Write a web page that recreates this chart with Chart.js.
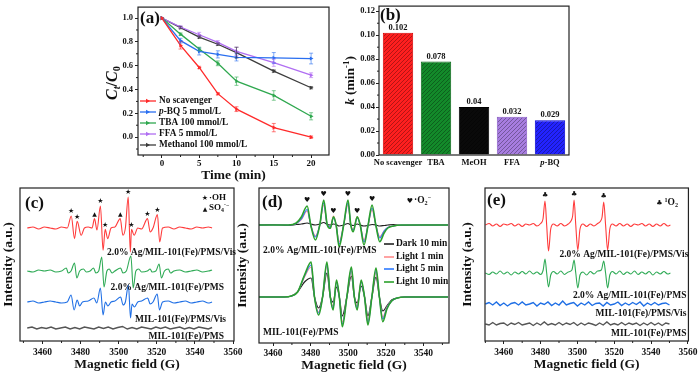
<!DOCTYPE html>
<html>
<head>
<meta charset="utf-8">
<script src="https://cdn.jsdelivr.net/npm/chart.js@4.4.1/dist/chart.umd.min.js"></script>
<style>
  html, body { margin: 0; padding: 0; background: #fff; }
  #wrap { position: relative; width: 700px; height: 374px; overflow: hidden; }
  canvas { position: absolute; }
</style>
</head>
<body>
<div id="wrap">
  <canvas id="ca" width="240" height="190" style="left:95px;top:0px"></canvas>
  <canvas id="cb" width="240" height="190" style="left:340px;top:0px"></canvas>
  <canvas id="cc" width="246" height="194" style="left:0px;top:180px"></canvas>
  <canvas id="cd" width="226" height="194" style="left:234px;top:180px"></canvas>
  <canvas id="ce" width="242" height="194" style="left:458px;top:180px"></canvas>
</div>
<script>
// ---------- (a) Ct/C0 vs time with scavengers ----------
const timesA = [0, 2.5, 5, 7.5, 10, 15, 20];
const namesA = ['No scavenger', 'p-BQ 5 mmol/L', 'TBA 100 mmol/L', 'FFA 5 mmol/L', 'Methanol 100 mmol/L'];
const noScav   = [1.0, 0.77, 0.585, 0.365, 0.235, 0.08, 0.0];
const pBQ      = [1.0, 0.81, 0.72, 0.695, 0.67, 0.665, 0.66];
const tba      = [1.0, 0.865, 0.74, 0.62, 0.47, 0.35, 0.175];
const ffa      = [1.0, 0.925, 0.86, 0.795, 0.72, 0.625, 0.52];
const methanol = [1.0, 0.92, 0.84, 0.78, 0.71, 0.555, 0.415];
const errNoScav = [0, 0.03, 0.01, 0.01, 0.02, 0.035, 0.01];
const errPBQ    = [0, 0.02, 0.03, 0.03, 0.03, 0.045, 0.045];
const errTBA    = [0, 0.01, 0.015, 0.02, 0.035, 0.04, 0.03];
const errFFA    = [0, 0.01, 0.02, 0.015, 0.035, 0.03, 0.02];
const errMeOH   = [0, 0.01, 0.01, 0.01, 0.045, 0.01, 0.01];
const minorAx = [-2.5, 2.5, 7.5, 12.5, 17.5];
const minorAy = [-0.1, 0.1, 0.3, 0.5, 0.7, 0.9];

// ---------- (b) rate constants ----------
const catsB = ['No scavenger', 'TBA', 'MeOH', 'FFA', 'p-BQ'];
const kB = [0.102, 0.078, 0.04, 0.032, 0.029];
const minorBy = [0.01, 0.03, 0.05, 0.07, 0.09, 0.11];

// ---------- (c) DMPO spectra, [field G, intensity a.u.] ----------
const cLabels = ['2.0% Ag/MIL-101(Fe)/PMS/Vis', '2.0% Ag/MIL-101(Fe)/PMS', 'MIL-101(Fe)/PMS/Vis', 'MIL-101(Fe)/PMS'];
const cOffset = [113, 70, 39, 13]; // stacking offsets (a.u.)
const cRed = [[3452,0],[3455,1],[3458,-1],[3461,1],[3464,0],[3467,-1],[3470,1],[3473,0],[3475.1,12],[3476.8,-10.6],
  [3478.2,6.7],[3480.3,-7.3],[3482,0],[3484,1],[3486,0],[3487.3,9.4],[3488.6,-2],[3490.4,22],[3491.8,-22.3],[3492.9,-1.3],
  [3494.2,-10.6],[3496,0],[3498,1],[3500.8,9.4],[3502.2,-7.3],[3503.5,0],[3505,31],[3506.1,-24],[3506.7,-1.3],[3508.1,-7.3],
  [3510,0],[3512,-1],[3515.1,9.4],[3516.5,-4],[3518,0],[3520.3,13.4],[3521.5,-14],[3523,0],[3526,1],[3529,-1],
  [3532,1],[3535,0],[3538,-1],[3541,1],[3544,0],[3547,1],[3549,0]];
const cGreen = [[3452,0],[3455,-1],[3458,1],[3461,0],[3464,1],[3467,-1],[3470,0],[3472.5,3],[3473.5,-2],[3475,0],
  [3476.8,8],[3478,-7],[3479.5,0],[3481.5,2],[3483,-1],[3485,0],[3486.8,3],[3488,-2],[3489.5,0],[3491.1,14],
  [3492.3,-16],[3493.8,0],[3495,2],[3496.5,-2],[3498,0],[3501,3],[3502.2,-2],[3504,0],[3506.4,15],[3507.6,-17],
  [3509,0],[3510.5,2],[3512,-1],[3515,0],[3516.5,2],[3517.5,-1],[3519.5,0],[3521.2,7],[3522.4,-7],[3524,0],
  [3526,2],[3527.2,-2],[3529,0],[3532,1],[3535,-1],[3538,0],[3541,1],[3544,-1],[3547,0],[3549,1]];
const cBlue = [[3452,0],[3455,1],[3458,-1],[3461,0],[3464,1],[3467,0],[3470,-1],[3473,0],[3475,7],[3476.6,-8],
  [3478.2,2],[3479.5,-4],[3481,0],[3484,1],[3487,4],[3488.5,-1],[3490.4,14],[3491.8,-13],[3493,0],[3494.3,-4],
  [3496,0],[3498,1],[3501,5],[3502.3,-3],[3503.5,0],[3505.1,17],[3506.2,-16],[3507,-2],[3508.2,-5],[3510,0],
  [3512,1],[3515.2,4],[3516.5,-2],[3518,0],[3520.2,8],[3521.4,-8],[3523,0],[3526,1],[3529,-1],[3532,0],
  [3535,1],[3538,-1],[3541,0],[3544,1],[3547,-1],[3549,0]];
const cGray = [[3452,0],[3454.5,1],[3457,-1],[3459.5,0.5],[3462,-0.5],[3464.5,1],[3467,-1],[3469.5,0],[3472,1],[3474.5,-1],
  [3477,0.5],[3479.5,-1],[3482,1],[3484.5,0],[3487,-1],[3489.5,1],[3492,-0.5],[3494.5,1],[3497,-1],[3499.5,0.5],
  [3502,1.5],[3504.5,-1],[3507,0.5],[3509.5,-1],[3512,1],[3514.5,0],[3517,-1],[3519.5,1],[3522,-0.5],[3524.5,1],
  [3527,-1],[3529.5,0],[3532,1],[3534.5,-1],[3537,0.5],[3539.5,-1],[3542,1],[3544.5,0],[3547,-1],[3549,0.5]];
const cStarFields = [3475.1, 3478.2, 3490.4, 3492.9, 3505, 3506.7, 3515.1, 3520.3];
const cTriFields = [3487.3, 3500.8];
const minorCx = [3450, 3470, 3490, 3510, 3530, 3550];

// ---------- (d) DMPO-O2 spectra ----------
const dLegend = ['Dark 10 min', 'Light 1 min', 'Light 5 min', 'Light 10 min'];
const dOffset = [118, 46];
const dFieldTop = [3452, 3460, 3468, 3472.3, 3475, 3478.1, 3480, 3482.5, 3484.8, 3486.9, 3488.8, 3490.4, 3492.1, 3493.5, 3495.1, 3497.5,
  3499.8, 3501.3, 3502.6, 3504.7, 3506.3, 3508.3, 3510.5, 3512.6, 3514.6, 3516.7, 3519, 3521, 3524, 3528, 3540, 3553];
const dTopDark = [0, 0.5, -0.5, 0.5, 1, 2, 1, 0, 1, 2.5, 0.5, 0, 1, 0.5, -1, 0, 1.5, 0, -0.5, 1, 0, -1, -0.5, 0.5, 0, -1, -0.5, 0, 0.5, -0.5, 0, 0];
const dTopL1   = [0, 0, 0, 1.5, 5.5, 14, 0, -11, 0, 20, 0, -1.5, 9, 0, -17, 0, 20, 0, -4.5, 8.5, 0, -15, 0, 15, 0, -11.7, -6, -2.5, -1, 0, 0, 0];
const dTopL5   = [0, 0, 0, 1.5, 6, 15.5, 0, -12, 0, 22, 0, -2, 7, 0, -19, 0, 22, 0, -5, 7, 0, -17, 0, 17, 0, -13, -6, -2.5, -1, 0, 0, 0];
const dTopL10  = [0, 0, 0, 2, 8, 19, 0, -15, 0, 25, 0, -3.3, 8.3, 0, -21.7, 0, 25, 0, -6.7, 8.3, 0, -20, 0, 20, 0, -16.7, -8, -3, -1, 0, 0, 0];
const dFieldLow = [3452, 3460, 3466, 3469.7, 3473, 3476.7, 3480.2, 3482, 3484.2, 3486.3, 3488.6, 3490.4, 3491.9, 3493.7, 3495.2, 3496.8,
  3499.2, 3501.6, 3503.2, 3504.7, 3506.8, 3508.6, 3510.4, 3512.5, 3514.7, 3516.5, 3518.3, 3520.5, 3523, 3526, 3530, 3540, 3553];
const dLowDark = [0, 0, 0, 1, 5, 15, 19, 0, -11, 0, 24, 0, -5, 10, 0, -19, 0, 21, 0, -6, 11, 0, -19, 0, 20, 0, -14, -9, -3, -1, 0, 0, 0];
const dLowL1   = [0, 0, 0, 1, 5, 20, 30, 0, -15, 0, 31, 0, -9, 16, 0, -25, 0, 26, 0, -9, 16, 0, -24, 0, 25, 0, -20, -10, -4, -1, 0, 0, 0];
const dLowL5   = [0, 0, 0, 1, 5, 21, 32, 0, -16, 0, 33, 0, -11, 15, 0, -27, 0, 28, 0, -11, 15, 0, -26, 0, 27, 0, -22, -11, -4, -1, 0, 0, 0];
const dLowL10  = [0, 0, 0, 1, 5, 22, 35, 0, -18, 0, 35, 0, -13, 17, 0, -29.7, 0, 30, 0, -13, 17, 0, -28, 0, 29, 0, -24.7, -12, -4, -1, 0, 0, 0];
const dHeartFields = [3478.1, 3486.9, 3492.1, 3499.8, 3504.7, 3512.6];
const minorDx = [3470, 3490, 3510, 3530, 3550];

// ---------- (e) TEMP-1O2 spectra ----------
const eLabels = cLabels;
const eOffset = [116, 68, 37, 17];
const eRed = [[3450,0],[3452,1.5],[3454,-1],[3456,1],[3458,-1.5],[3460,1],[3462,0],[3464,1.5],[3466,-1],[3468,1],
  [3470,-1.5],[3472,1],[3474,0],[3476,1.5],[3478,-1],[3480,1.5],[3481.3,6],[3482.4,24],[3483.3,0],[3484.3,-26],
  [3485.5,-4],[3487,1],[3489,-1],[3491,1.5],[3493,-1],[3495,1],[3496.5,4],[3497.4,9],[3498.2,25],[3499.1,0],
  [3500.2,-25],[3501.4,-4],[3503,1],[3505,-1.5],[3507,1],[3509,-1],[3511,1.5],[3512.6,4],[3513.4,8],[3514.3,23],
  [3515.3,0],[3516.4,-25],[3517.6,-4],[3519,1],[3521,-1],[3523,1.5],[3525,-1],[3527,1],[3529,-1.5],[3531,1],
  [3533,0],[3535,1.5],[3537,-1],[3539,1],[3541,-1.5],[3543,1],[3545,-1],[3547,1.5],[3549,-1],[3550.5,0]];
const eGreen = [[3450,0],[3452,-1.5],[3454,1],[3456,-1],[3458,2],[3460,-1],[3462,1],[3464,-2],[3466,1],[3468,-1],
  [3470,1.5],[3472,-1],[3474,2],[3476,-1],[3478,1],[3480,-1.5],[3481.4,3],[3482.4,14],[3483.3,0],[3484.3,-14],
  [3485.5,-2],[3487,1.5],[3489,-1],[3491,2],[3493,-1.5],[3495,1],[3497,3],[3498.2,13],[3499.1,0],[3500.2,-15],
  [3501.4,-2],[3503,1],[3505,-2],[3507,1.5],[3509,-1],[3511,2],[3513,3],[3514.3,12],[3515.3,0],[3516.4,-15],
  [3517.6,-2],[3519,1.5],[3521,-1],[3523,2],[3525,-1.5],[3527,1],[3529,-1],[3531,2],[3533,-1.5],[3535,1],
  [3537,-1],[3539,1.5],[3541,-2],[3543,1],[3545,-1],[3547,1.5],[3549,-1],[3550.5,0]];
const eGrid = [3450,3452,3454,3456,3458,3460,3462,3464,3466,3468,3470,3472,3474,3476,3478,3480,3482,3484,3486,3488,
  3490,3492,3494,3496,3498,3500,3502,3504,3506,3508,3510,3512,3514,3516,3518,3520,3522,3524,3526,3528,
  3530,3532,3534,3536,3538,3540,3542,3544,3546,3548,3550];
const eBlue = [0,1.5,-1,2,-1.5,1,-2,0.5,1.5,-1, 2,-1,0,1.5,-2,1,-0.5,2,-1.5,1, -1,3,-1,0.5,1.5,-2,1,-1,2,-1.5,
  0.5,1,-2,1.5,-1,0,2,-1.5,1,-1, 1.5,-0.5,2,-2,1,-1,1.5,-1,0.5,1, -1];
const eGray = [0,-1,1.5,-1,0.5,1,-1.5,1,-0.5,1.5, -1,0,1,-1.5,1,-1,2,-1,0.5,-1, 1.5,-1,1,-0.5,1.5,-1.5,1,-1,1,0,
  -1.5,1,-1,2,-1,0.5,-1,1.5,-1,1, -0.5,1,-1.5,1,-1,1.5,-1,1,-1.5,1, 0];
const eClubFields = [3482.4, 3498.2, 3514.3];
const minorEx = [3450, 3470, 3490, 3510, 3530, 3550];

// ---------- helpers ----------
const FONT = '"Liberation Serif", "Times New Roman", serif';
const INK = '#111';
function f(size, style) { return { family: FONT, size: size, weight: 'bold', style: style || 'normal' }; }

function richFont(p, size) {
  const s = (p.sub || p.sup) ? size * 0.65 : size;
  return (p.it ? 'italic ' : '') + 'bold ' + s + 'px ' + FONT;
}
// draws text made of parts {t, it, sub, sup}
function drawRich(ctx, parts, x, y, size, align, rotate) {
  ctx.save();
  ctx.translate(x, y);
  if (rotate) ctx.rotate(-Math.PI / 2);
  let w = 0;
  const widths = parts.map(p => { ctx.font = richFont(p, size); const m = ctx.measureText(p.t).width; w += m; return m; });
  let cx = align === 'center' ? -w / 2 : align === 'right' ? -w : 0;
  ctx.textAlign = 'left';
  ctx.textBaseline = 'middle';
  ctx.fillStyle = INK;
  parts.forEach((p, i) => {
    ctx.font = richFont(p, size);
    const dy = p.sub ? size * 0.28 : p.sup ? -size * 0.3 : 0;
    ctx.fillText(p.t, cx, dy);
    cx += widths[i];
  });
  ctx.restore();
}
function txt(ctx, s, x, y, size, align) {
  ctx.font = 'bold ' + size + 'px ' + FONT;
  ctx.textAlign = align || 'left';
  ctx.textBaseline = 'middle';
  ctx.fillStyle = INK;
  ctx.fillText(s, x, y);
}
function glyph(ctx, s, x, y, size) {
  ctx.font = size + 'px "DejaVu Sans", sans-serif';
  ctx.textAlign = 'center';
  ctx.textBaseline = 'bottom';
  ctx.fillStyle = INK;
  ctx.fillText(s, x, y);
}
function nameParts(s) {
  return s.startsWith('p-') ? [{ t: 'p', it: 1 }, { t: s.slice(1) }] : [{ t: s }];
}
function zip(fields, vals) { return fields.map((g, i) => [g, vals[i]]); }
function valAt(points, g) { const p = points.find(q => q[0] === g); return p ? p[1] : 0; }

function spec(points, offset, color, width, smooth) {
  return {
    data: points.map(p => ({ x: p[0], y: offset + p[1] })),
    borderColor: color, borderWidth: width || 1, pointRadius: 0, fill: false,
    cubicInterpolationMode: smooth === false ? 'default' : 'monotone', tension: 0
  };
}

// frame round the plot area
const framePlugin = {
  id: 'frame',
  afterDraw(chart) {
    const { ctx, chartArea: a } = chart;
    ctx.save();
    ctx.strokeStyle = '#222';
    ctx.lineWidth = 1.2;
    ctx.strokeRect(a.left, a.top, a.right - a.left, a.bottom - a.top);
    ctx.restore();
  }
};
// short outward minor ticks
const minorPlugin = {
  id: 'minor',
  afterDraw(chart, args, o) {
    const { ctx, chartArea: a, scales } = chart;
    ctx.save();
    ctx.strokeStyle = '#222';
    ctx.lineWidth = 1;
    (o.x || []).forEach(v => {
      const px = scales.x.getPixelForValue(v);
      ctx.beginPath(); ctx.moveTo(px, a.bottom); ctx.lineTo(px, a.bottom + 2); ctx.stroke();
    });
    (o.y || []).forEach(v => {
      const py = scales.y.getPixelForValue(v);
      ctx.beginPath(); ctx.moveTo(a.left, py); ctx.lineTo(a.left - 2, py); ctx.stroke();
    });
    ctx.restore();
  }
};
Chart.register(framePlugin, minorPlugin);

function base(pad) {
  return {
    responsive: false, animation: false, events: [],
    layout: { padding: pad, autoPadding: false },
    plugins: { legend: { display: false }, tooltip: { enabled: false } }
  };
}
function fieldAxis(min, max, xH, labelPad, titlePad) {
  return {
    type: 'linear', min: min, max: max,
    afterFit: s => { s.height = xH; },
    border: { display: false },
    grid: { drawOnChartArea: false, tickLength: 3, color: '#222' },
    ticks: { stepSize: 20, includeBounds: false, font: f(9.5), color: INK, padding: labelPad, maxRotation: 0, autoSkip: false,
      callback: v => String(v) },
    title: { display: true, text: 'Magnetic field (G)', font: f(13.5), color: INK, padding: { top: 0, bottom: titlePad } }
  };
}
function intensityAxis(max, yW, titlePad) {
  return {
    type: 'linear', min: 0, max: max,
    afterFit: s => { s.width = yW; },
    border: { display: false }, grid: { display: false }, ticks: { display: false },
    title: { display: true, text: 'Intensity (a.u.)', font: f(13.5), color: INK, padding: { top: titlePad, bottom: 0 } }
  };
}

// ---------- chart (a) ----------
const seriesA = [noScav, pBQ, tba, ffa, methanol];
const errA = [errNoScav, errPBQ, errTBA, errFFA, errMeOH];
const colorsA = ['#ff2a2a', '#2a6ff0', '#2fa84f', '#b06ef2', '#3c3c3c'];

const optA = base({ left: 0, right: 6, top: 3, bottom: 0 });
optA.plugins.minor = { x: minorAx, y: minorAy };
optA.scales = {
  x: {
    type: 'linear', min: -3.2, max: 22.4,
    afterFit: s => { s.height = 35; },
    border: { display: false },
    grid: { drawOnChartArea: false, tickLength: 3, color: '#222' },
    ticks: { stepSize: 5, includeBounds: false, font: f(9), color: INK, padding: 0, maxRotation: 0, callback: v => String(v) },
    title: { display: true, text: 'Time (min)', font: f(13.5), color: INK, padding: { top: 0, bottom: 6.5 } }
  },
  y: {
    type: 'linear', min: -0.15, max: 1.092,
    afterFit: s => { s.width = 43; },
    border: { display: false },
    grid: { drawOnChartArea: false, tickLength: 3, color: '#222' },
    ticks: { stepSize: 0.2, includeBounds: false, font: f(8.5), color: INK, padding: 2, callback: v => v.toFixed(1) }
  }
};
new Chart(document.getElementById('ca'), {
  type: 'line',
  data: {
    datasets: seriesA.map((s, k) => ({
      data: timesA.map((t, i) => ({ x: t, y: s[i] })),
      borderColor: colorsA[k], backgroundColor: colorsA[k], borderWidth: 1.3,
      pointStyle: 'triangle', rotation: 90, pointRadius: 2.4, pointBorderWidth: 0, tension: 0
    }))
  },
  options: optA,
  plugins: [{
    id: 'aNotes',
    afterDatasetsDraw(chart) {
      const { ctx, scales: { x, y } } = chart;
      ctx.save();
      ctx.globalAlpha = 0.6;
      ctx.lineWidth = 1;
      seriesA.forEach((s, k) => {
        ctx.strokeStyle = colorsA[k];
        timesA.forEach((t, i) => {
          const e = errA[k][i];
          if (!e) return;
          const px = x.getPixelForValue(t);
          const y1 = y.getPixelForValue(s[i] + e), y2 = y.getPixelForValue(s[i] - e);
          ctx.beginPath();
          ctx.moveTo(px, y1); ctx.lineTo(px, y2);
          ctx.moveTo(px - 2, y1); ctx.lineTo(px + 2, y1);
          ctx.moveTo(px - 2, y2); ctx.lineTo(px + 2, y2);
          ctx.stroke();
        });
      });
      ctx.restore();
    },
    afterDraw(chart) {
      const { ctx, chartArea: a } = chart;
      txt(ctx, '(a)', a.left + 2, a.top + 12, 17);
      drawRich(ctx, [{ t: 'C', it: 1 }, { t: 't', it: 1, sub: 1 }, { t: '/' }, { t: 'C', it: 1 }, { t: '0', sub: 1 }],
        a.left - 25, (a.top + a.bottom) / 2 + 2, 16, 'center', true);
      namesA.forEach((n, k) => {
        const yy = a.bottom - 54 + k * 11;
        ctx.save();
        ctx.strokeStyle = colorsA[k]; ctx.lineWidth = 1.3;
        ctx.beginPath(); ctx.moveTo(a.left + 2, yy); ctx.lineTo(a.left + 18, yy); ctx.stroke();
        ctx.fillStyle = colorsA[k];
        ctx.beginPath(); ctx.moveTo(a.left + 12, yy); ctx.lineTo(a.left + 8, yy - 2.2); ctx.lineTo(a.left + 8, yy + 2.2); ctx.fill();
        ctx.restore();
        drawRich(ctx, nameParts(n), a.left + 21, yy, 9.3, 'left', false);
      });
    }
  }]
});

// ---------- chart (b) ----------
const barColorsB = ['#ff1f1f', '#138a2a', '#0a0a0a', '#a77de0', '#2323ff'];
const barEdgeB = ['#d80000', '#0a6a1a', '#000000', '#8a5cc8', '#0000d0'];
function hatch(color) {
  const c = document.createElement('canvas');
  c.width = 4; c.height = 4;
  const g = c.getContext('2d');
  g.fillStyle = color; g.fillRect(0, 0, 4, 4);
  g.strokeStyle = 'rgba(0,0,0,0.3)'; g.lineWidth = 1;
  g.beginPath();
  g.moveTo(0, 4); g.lineTo(4, 0);
  g.moveTo(-1, 1); g.lineTo(1, -1);
  g.moveTo(3, 5); g.lineTo(5, 3);
  g.stroke();
  return g.createPattern(c, 'repeat');
}
const optB = base({ left: 0, right: 11, top: 3, bottom: 0 });
optB.plugins.minor = { y: minorBy };
optB.scales = {
  x: {
    type: 'category', offset: true,
    afterFit: s => { s.height = 35; },
    border: { display: false }, grid: { display: false }, ticks: { display: false }
  },
  y: {
    type: 'linear', min: 0, max: 0.1243,
    afterFit: s => { s.width = 39; },
    border: { display: false },
    grid: { drawOnChartArea: false, tickLength: 3, color: '#222' },
    ticks: { stepSize: 0.02, includeBounds: false, font: f(8.5), color: INK, padding: 1, callback: v => v.toFixed(2) }
  }
};
new Chart(document.getElementById('cb'), {
  type: 'bar',
  data: {
    labels: catsB,
    datasets: [{
      data: kB,
      backgroundColor: barColorsB.map(hatch),
      borderColor: barEdgeB, borderWidth: 1,
      barPercentage: 0.8, categoryPercentage: 1
    }]
  },
  options: optB,
  plugins: [{
    id: 'bNotes',
    afterDraw(chart) {
      const { ctx, chartArea: a } = chart;
      const meta = chart.getDatasetMeta(0);
      meta.data.forEach((bar, i) => {
        ctx.font = 'bold 8.5px ' + FONT;
        ctx.textAlign = 'center'; ctx.textBaseline = 'bottom'; ctx.fillStyle = INK;
        ctx.fillText(String(kB[i]), bar.x, bar.y - 1);
        drawRich(ctx, nameParts(catsB[i]), bar.x, a.bottom + 8, 8.5, 'center', false);
      });
      txt(ctx, '(b)', a.left + 1, a.top + 10, 17);
      drawRich(ctx, [{ t: 'k', it: 1 }, { t: ' (min' }, { t: '-1', sup: 1 }, { t: ')' }],
        a.left - 28, (a.top + a.bottom) / 2, 13.5, 'center', true);
    }
  }]
});

// ---------- chart (c) ----------
const cColors = ['#ff3b3b', '#2eaa55', '#1f6fe5', '#555555'];
const optC = base({ left: 0, right: 12, top: 8, bottom: 0 });
optC.plugins.minor = { x: minorCx };
optC.scales = { x: fieldAxis(3448.2, 3560.5, 33, 2.6, 1.6), y: intensityAxis(153, 20, 0) };
new Chart(document.getElementById('cc'), {
  type: 'line',
  data: {
    datasets: [
      spec(cRed, cOffset[0], cColors[0], 1.1),
      spec(cGreen, cOffset[1], cColors[1], 1.1),
      spec(cBlue, cOffset[2], cColors[2], 1.1),
      spec(cGray, cOffset[3], cColors[3], 1.4, false)
    ]
  },
  options: optC,
  plugins: [{
    id: 'cNotes',
    afterDraw(chart) {
      const { ctx, chartArea: a, scales: { x, y } } = chart;
      txt(ctx, '(c)', a.left + 5, a.top + 16, 17);
      cStarFields.forEach(g => glyph(ctx, '★', x.getPixelForValue(g), y.getPixelForValue(cOffset[0] + valAt(cRed, g)) - 1, 7));
      cTriFields.forEach(g => glyph(ctx, '▲', x.getPixelForValue(g), y.getPixelForValue(cOffset[0] + valAt(cRed, g)) - 1, 6));
      const lx = [2, -10, -8, -10], ly = [65, 100, 132, 149];
      cLabels.forEach((s, i) => txt(ctx, s, a.right + lx[i], a.top + ly[i], 9.5, 'right'));
      glyph(ctx, '★', a.right - 29, a.top + 14, 7);
      drawRich(ctx, [{ t: '·OH' }], a.right - 25, a.top + 10, 9, 'left', false);
      glyph(ctx, '▲', a.right - 29, a.top + 24, 6);
      drawRich(ctx, [{ t: 'SO' }, { t: '4', sub: 1 }, { t: '·−', sup: 1 }], a.right - 25, a.top + 20, 9, 'left', false);
    }
  }]
});

// ---------- chart (d) ----------
const dColors = ['#222222', '#ff8c8c', '#2f7bff', '#2ca02c'];
const dTop = [dTopDark, dTopL1, dTopL5, dTopL10];
const dLow = [dLowDark, dLowL1, dLowL5, dLowL10];
const optD = base({ left: 0, right: 11, top: 8, bottom: 0 });
optD.plugins.minor = { x: minorDx };
optD.scales = { x: fieldAxis(3452.5, 3553.5, 31, 1.6, 0.6), y: intensityAxis(155, 25, 0) };
new Chart(document.getElementById('cd'), {
  type: 'line',
  data: {
    datasets: [3, 2, 1, 0].flatMap(k => [
      spec(zip(dFieldTop, dTop[k]), dOffset[0], dColors[k], k === 3 ? 1.6 : 1.2),
      spec(zip(dFieldLow, dLow[k]), dOffset[1], dColors[k], k === 3 ? 1.6 : 1.2)
    ])
  },
  options: optD,
  plugins: [{
    id: 'dNotes',
    afterDraw(chart) {
      const { ctx, chartArea: a, scales: { x, y } } = chart;
      txt(ctx, '(d)', a.left + 3, a.top + 15, 17);
      dHeartFields.forEach(g => {
        const i = dFieldTop.indexOf(g);
        glyph(ctx, '♥', x.getPixelForValue(g), y.getPixelForValue(dOffset[0] + dTopL10[i]) - 2, 7);
      });
      glyph(ctx, '♥', a.right - 39, a.top + 17, 7);
      drawRich(ctx, [{ t: '·O' }, { t: '2', sub: 1 }, { t: '−', sup: 1 }], a.right - 35, a.top + 13, 9.5, 'left', false);
      txt(ctx, '2.0% Ag/MIL-101(Fe)/PMS', a.left + 4, a.top + 63, 9.5);
      txt(ctx, 'MIL-101(Fe)/PMS', a.left + 4, a.top + 145, 9.5);
      const ry = [56, 69, 81, 94];
      dLegend.forEach((s, k) => {
        const yy = a.top + ry[k];
        ctx.save();
        ctx.strokeStyle = dColors[k]; ctx.lineWidth = 1.6;
        ctx.beginPath(); ctx.moveTo(a.right - 65, yy); ctx.lineTo(a.right - 55, yy); ctx.stroke();
        ctx.restore();
        txt(ctx, s, a.right - 53, yy, 9.5);
      });
    }
  }]
});

// ---------- chart (e) ----------
const eColors = ['#ff3b3b', '#2eaa55', '#1f6fe5', '#555555'];
const optE = base({ left: 0, right: 8, top: 8, bottom: 0 });
optE.plugins.minor = { x: minorEx };
optE.scales = { x: fieldAxis(3449.8, 3560.3, 33, 2.6, 1.6), y: intensityAxis(153, 27, 1.2) };
new Chart(document.getElementById('ce'), {
  type: 'line',
  data: {
    datasets: [
      spec(eRed, eOffset[0], eColors[0], 1.1),
      spec(eGreen, eOffset[1], eColors[1], 1.1),
      spec(zip(eGrid, eBlue), eOffset[2], eColors[2], 1.4, false),
      spec(zip(eGrid, eGray), eOffset[3], eColors[3], 1.4, false)
    ]
  },
  options: optE,
  plugins: [{
    id: 'eNotes',
    afterDraw(chart) {
      const { ctx, chartArea: a, scales: { x, y } } = chart;
      txt(ctx, '(e)', a.left + 2, a.top + 13, 17);
      eClubFields.forEach(g => glyph(ctx, '♣', x.getPixelForValue(g), y.getPixelForValue(eOffset[0] + valAt(eRed, g)) - 2, 7));
      glyph(ctx, '♣', a.right - 29, a.top + 19, 7);
      drawRich(ctx, [{ t: '1', sup: 1 }, { t: 'O' }, { t: '2', sub: 1 }], a.right - 24, a.top + 15, 9.5, 'left', false);
      const lx = [0, -2, -2, -2], ly = [67, 108, 126, 146];
      eLabels.forEach((s, i) => txt(ctx, s, a.right + lx[i], a.top + ly[i], 9.5, 'right'));
    }
  }]
});
</script>
</body>
</html>
